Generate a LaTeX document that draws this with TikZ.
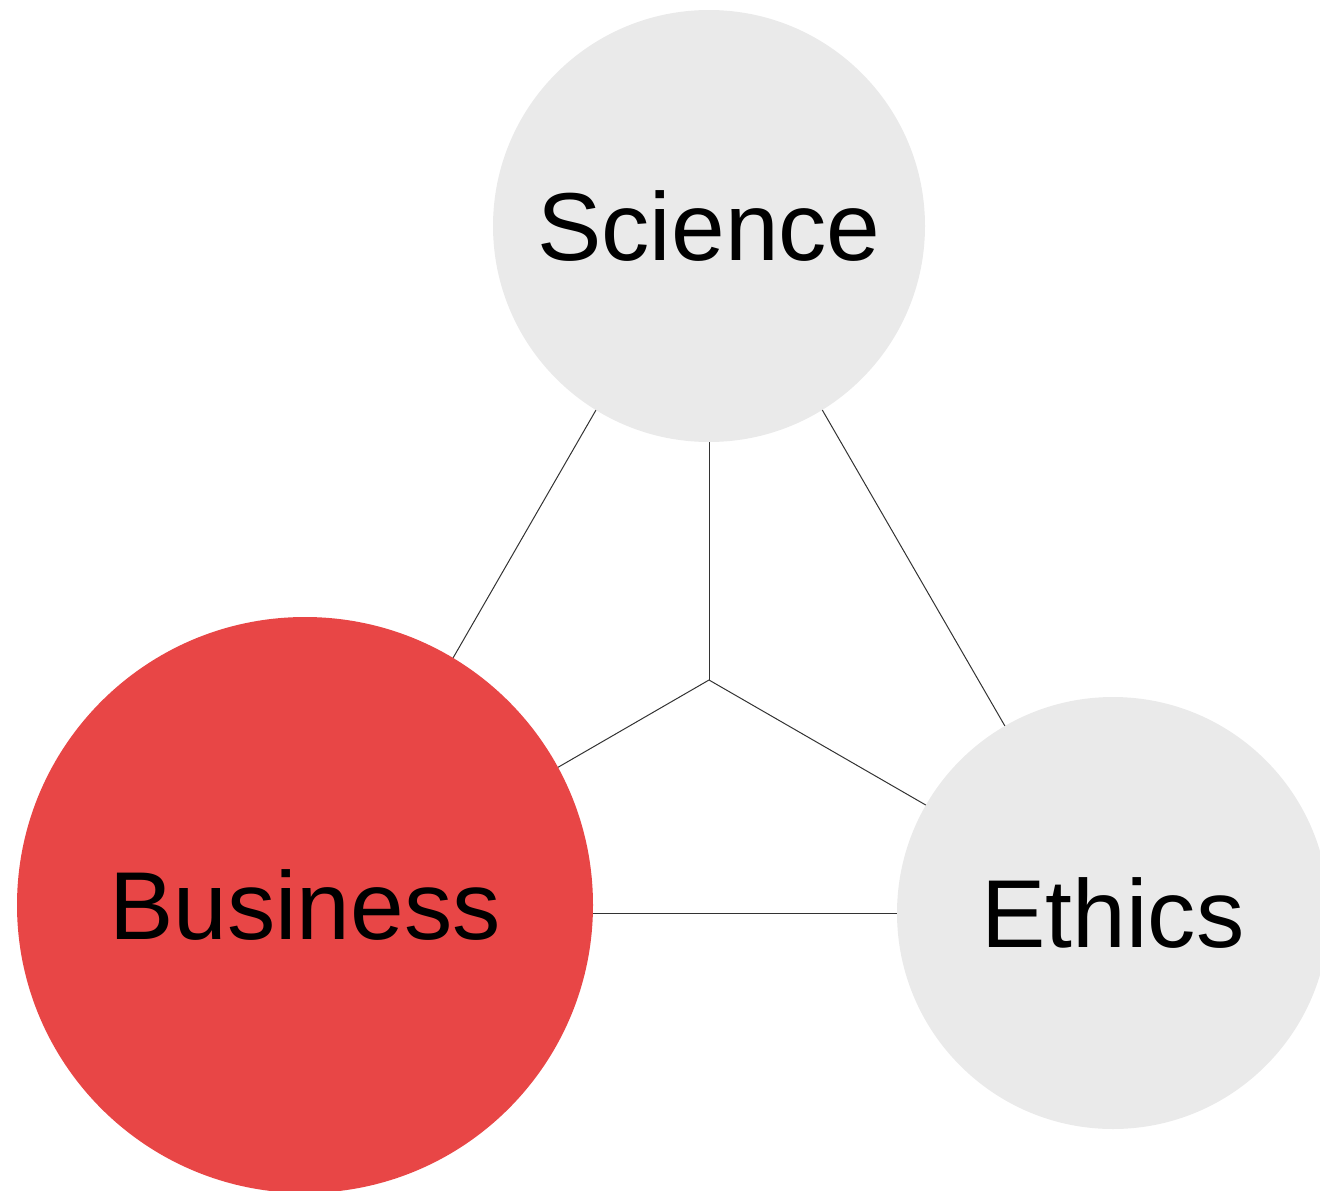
\documentclass[tikz,border=0pt]{standalone}
\usepackage{fontspec}
\setmainfont{Liberation Sans}
\definecolor{circgray}{HTML}{EAEAEA}
\definecolor{circred}{HTML}{E84646}
\definecolor{linegray}{HTML}{333333}
\begin{document}
\begin{tikzpicture}[x=1pt,y=-1pt,
  bubble/.style={circle,inner sep=0pt,outer sep=0pt,draw=none,font=\fontsize{96.5}{110}\selectfont,text=black},
  link/.style={draw=linegray,line width=1pt}]
\useasboundingbox (0,0) rectangle (1320,1191);
\clip (0,0) rectangle (1320,1191);
% triangle vertices and centroid
\coordinate (sv) at (709,214);
\coordinate (bv) at (306,913);
\coordinate (ev) at (1113,913);
\coordinate (c) at (709,680);
\draw[link] (sv) -- (bv);
\draw[link] (sv) -- (ev);
\draw[link] (bv) -- (ev);
\draw[link] (c) -- (sv);
\draw[link] (c) -- (bv);
\draw[link] (c) -- (ev);
% circles
\node[bubble,fill=circgray,minimum size=432pt] (sci) at (709,226) {Science};
\node[bubble,fill=circred,minimum size=576pt] (bus) at (305,905) {Business};
\node[bubble,fill=circgray,minimum size=432pt] (eth) at (1113,913) {Ethics};
\end{tikzpicture}
\end{document}
